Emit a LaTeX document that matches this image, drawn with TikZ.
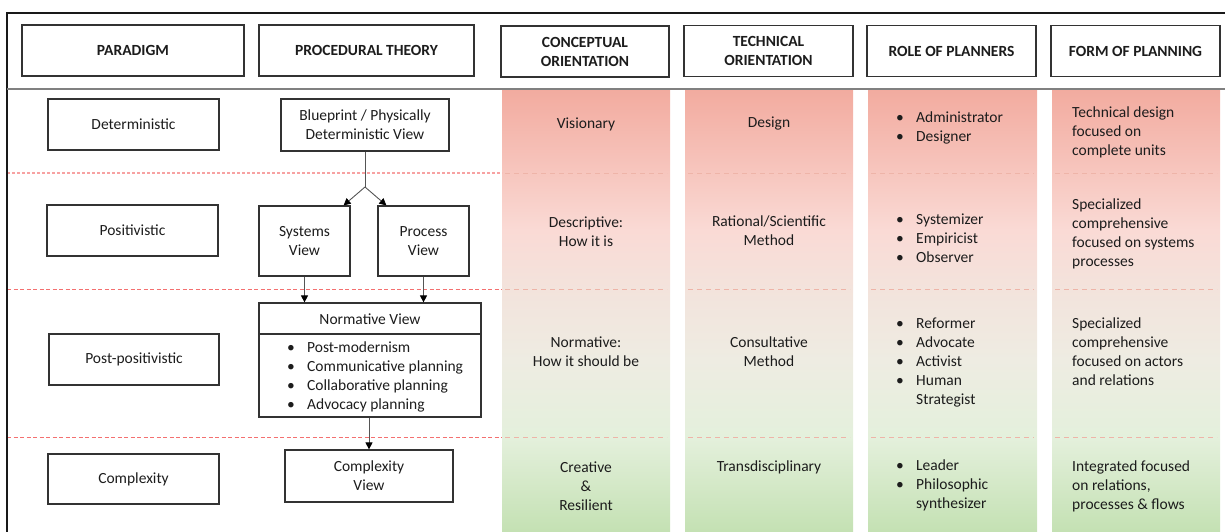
\documentclass[tikz,border=0pt]{standalone}
\usepackage{fontspec}
\setmainfont{Carlito}
\usetikzlibrary{arrows.meta,calc}

\definecolor{ink}{HTML}{1C1C1C}
\definecolor{boxline}{HTML}{333333}
\definecolor{conn}{HTML}{555555}
\definecolor{sepred}{HTML}{F47070}
\definecolor{seppink}{HTML}{F7A2A2}
\definecolor{faintsep}{HTML}{EEB4A8}
% column gradient stops, bottom to top
\definecolor{gA}{HTML}{C4E1B3}
\definecolor{gB}{HTML}{E4F0DC}
\definecolor{gC}{HTML}{EEECE2}
\definecolor{gD}{HTML}{F3E3DC}
\definecolor{gE}{HTML}{FADAD5}
\definecolor{gF}{HTML}{F7C6BE}
\definecolor{gG}{HTML}{F2AB9F}

\pgfdeclareverticalshading{bandgrad}{100bp}{%
  color(0bp)=(gA); color(25bp)=(gA); color(35.7bp)=(gB); color(44.4bp)=(gC);
  color(52.5bp)=(gD); color(59.1bp)=(gE); color(65.6bp)=(gF); color(75bp)=(gG);
  color(100bp)=(gG)}

\newcommand\cellsize{\fontsize{15.5}{19}\selectfont}

\tikzset{
  cell/.style={text=ink, font=\cellsize, align=center, inner sep=0pt},
  hbox/.style={draw=boxline, line width=1.2pt, text=ink, font=\cellsize\bfseries,
    align=center, inner sep=0pt, minimum height=51},
  vbox/.style={draw=boxline, line width=1.2pt, text=ink, font=\cellsize,
    align=center, inner sep=0pt},
  listtxt/.style={text=ink, font=\cellsize, inner sep=0pt, anchor=west},
  arr/.style={draw=conn, line width=0.9pt, -{Triangle[length=7pt,width=7pt,color=black]}},
  plainconn/.style={draw=conn, line width=0.9pt},
  frame/.style={draw=black!90, line width=1.3pt},
  headrule/.style={draw=black!50, line width=1.4pt},
  redsep/.style={draw=sepred, line width=1pt, dash pattern=on 4pt off 2.5pt},
  pinksep/.style={draw=seppink, line width=1.8pt, dash pattern=on 3pt off 2pt},
  faintdash/.style={draw=faintsep, line width=0.8pt, dash pattern=on 5pt off 4pt}
}

\begin{document}
\begin{tikzpicture}[x=1pt,y=-1pt]
\useasboundingbox (0,0) rectangle (1225,532);

% shaded columns with their faint row separators
\foreach \xl/\xr in {502/670, 685/853, 868/1037, 1052/1220}{
  \shade[shading=bandgrad] (\xl,89) rectangle (\xr,532);
  \foreach \yy in {173.5,289.5,437.5}
    \draw[faintdash] (\xl+3,\yy) -- (\xr-3,\yy);
}

% row separators across the left part
\draw[pinksep] (7,173) -- (502,173);
\draw[redsep] (7,289.5) -- (502,289.5);
\draw[redsep] (7,437.5) -- (502,437.5);

% frame and header rule
\draw[frame] (7,532) -- (7,13) -- (1225,13);
\draw[headrule] (7,89) -- (1225,89);

% header boxes
\node[hbox, minimum width=222] (hpar)  at (133,50.5)   {PARADIGM};
\node[hbox, minimum width=215] (hproc) at (366.5,50.5) {PROCEDURAL THEORY};
\node[hbox, minimum width=168] (hcon)  at (585,51.5)   {CONCEPTUAL\\ORIENTATION};
\node[hbox, minimum width=169] (htech) at (768.5,51)   {TECHNICAL\\ORIENTATION};
\node[hbox, minimum width=169] (hrole) at (951.5,51)   {ROLE OF PLANNERS};
\node[hbox, minimum width=169] (hform) at (1135.5,51)  {FORM OF PLANNING};

% paradigms
\node[vbox, minimum width=171, minimum height=51] (pdet)  at (133.5,124.5) {Deterministic};
\node[vbox, minimum width=171, minimum height=51] (ppos)  at (132.5,230.5) {Positivistic};
\node[vbox, minimum width=170, minimum height=51] (ppost) at (134,359.5)   {Post-positivistic};
\node[vbox, minimum width=171, minimum height=50] (pcx)   at (133.5,479)   {Complexity};

% procedural theories
\node[vbox, minimum width=168, minimum height=52] (bp)  at (365,125)   {Blueprint / Physically\\Deterministic View};
\node[vbox, minimum width=91,  minimum height=70] (sys) at (304.5,241) {Systems\\View};
\node[vbox, minimum width=91,  minimum height=70] (prc) at (423.5,241) {Process\\View};
\node[vbox, minimum width=222, minimum height=114] (norm) at (370,360) {};
\node[cell] (normtitle) at (370,319.5) {Normative View};
\draw[draw=boxline, line width=1.2pt] (norm.west |- 0,334) -- (norm.east |- 0,334);
\node[listtxt] (normlist) at (287,377.5) {%
  \begin{tabular}{@{}p{20pt}@{}l@{}}
  \textbullet & Post-modernism\\
  \textbullet & Communicative planning\\
  \textbullet & Collaborative planning\\
  \textbullet & Advocacy planning
  \end{tabular}};
\node[vbox, minimum width=168, minimum height=52] (cv) at (369,476) {Complexity\\View};

% connectors
\coordinate (split) at (365,187);
\draw[plainconn] (bp.south) -- (split);
\draw[arr] (split) -- ($(sys.north east)+(-7,0)$);
\draw[arr] (split) -- ($(prc.north west)+(9,0)$);
\draw[arr] (sys.south) -- (sys.south |- norm.north);
\draw[arr] (prc.south) -- (prc.south |- norm.north);
\draw[arr] (norm.south -| cv.north) -- (cv.north);

% conceptual orientation
\node[cell] (c1) at (586,124)   {Visionary};
\node[cell] (c2) at (586,231.5) {Descriptive:\\How it is};
\node[cell] (c3) at (586,351.5) {Normative:\\How it should be};
\node[cell] (c4) at (586,486)   {Creative\\\&\\Resilient};

% technical orientation
\node[cell] (t1) at (769,124)   {Design};
\node[cell] (t2) at (769,230.5) {Rational/Scientific\\Method};
\node[cell] (t3) at (769,351.5) {Consultative\\Method};
\node[cell] (t4) at (769,467)   {Transdisciplinary};

% role of planners
\node[listtxt] (r1) at (896,128.5) {%
  \begin{tabular}{@{}p{20pt}@{}l@{}}
  \textbullet & Administrator\\
  \textbullet & Designer
  \end{tabular}};
\node[listtxt] (r2) at (896,240) {%
  \begin{tabular}{@{}p{20pt}@{}l@{}}
  \textbullet & Systemizer\\
  \textbullet & Empiricist\\
  \textbullet & Observer
  \end{tabular}};
\node[listtxt] (r3) at (896,362.5) {%
  \begin{tabular}{@{}p{20pt}@{}l@{}}
  \textbullet & Reformer\\
  \textbullet & Advocate\\
  \textbullet & Activist\\
  \textbullet & Human\\
              & Strategist
  \end{tabular}};
\node[listtxt] (r4) at (896,486) {%
  \begin{tabular}{@{}p{20pt}@{}l@{}}
  \textbullet & Leader\\
  \textbullet & Philosophic\\
              & synthesizer
  \end{tabular}};

% form of planning
\node[listtxt, align=left] (f1) at (1072,132)   {Technical design\\focused on\\complete units};
\node[listtxt, align=left] (f2) at (1072,233.5) {Specialized\\comprehensive\\focused on systems\\processes};
\node[listtxt, align=left] (f3) at (1072,351.5) {Specialized\\comprehensive\\focused on actors\\and relations};
\node[listtxt, align=left] (f4) at (1072,486)   {Integrated focused\\on relations,\\processes \& flows};

\end{tikzpicture}
\end{document}
